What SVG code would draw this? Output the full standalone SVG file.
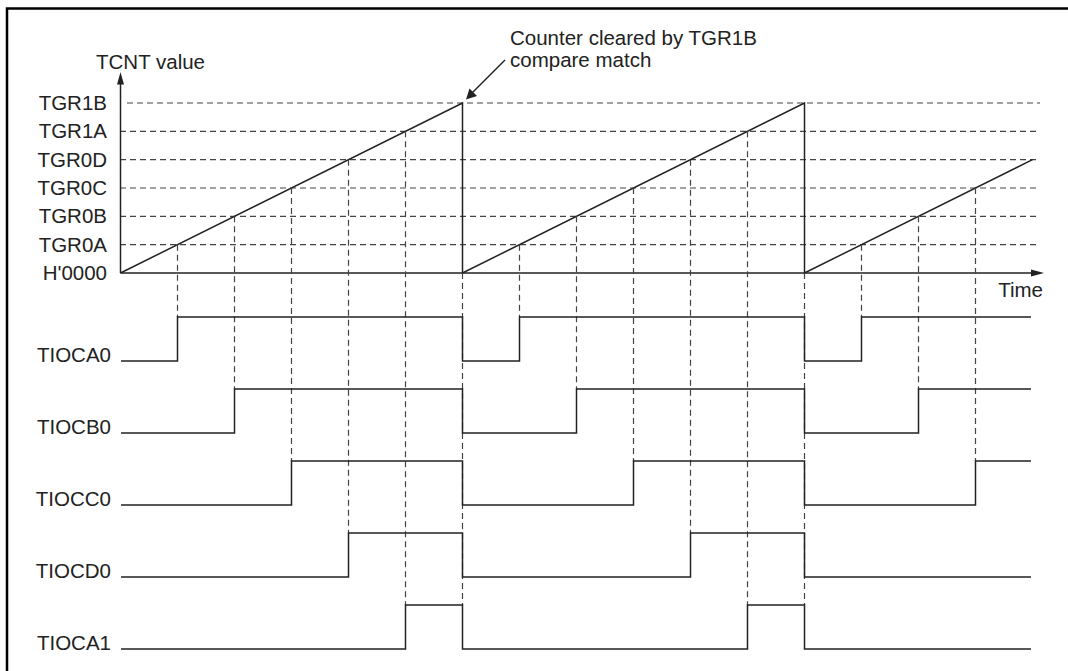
<svg xmlns="http://www.w3.org/2000/svg" width="1068" height="671" viewBox="0 0 1068 671">
<style>
text{font-family:"Liberation Sans",Arial,sans-serif;font-size:20.5px;fill:#222}
.r{text-anchor:end}
.solid{stroke:#222;stroke-width:1.5;fill:none}
.dash{stroke:#444;stroke-width:1.2;stroke-dasharray:6 4;fill:none}
.head{fill:#222;stroke:none}
</style>
<rect width="1068" height="671" fill="#fff"/>
<path d="M7,671 V8.5 H1068" stroke="#000" stroke-width="2.5" fill="none"/>
<g id="levels">
<path class="dash" d="M127,103 H1040 M120,131.3 H1040 M120,159.7 H1040 M120,188 H1040 M120,216.3 H1040 M120,244.7 H1040"/>
<text class="r" x="107" y="110">TGR1B</text>
<text class="r" x="107" y="138.3">TGR1A</text>
<text class="r" x="107" y="166.7">TGR0D</text>
<text class="r" x="107" y="195">TGR0C</text>
<text class="r" x="107" y="223.3">TGR0B</text>
<text class="r" x="107" y="251.7">TGR0A</text>
<text class="r" x="107" y="280">H'0000</text>
</g>
<g id="axes">
<path class="solid" d="M120.5,273 V83 M120.5,273 H1032"/>
<polygon class="head" points="120.5,72 117,84.5 124,84.5"/>
<polygon class="head" points="1044,273 1031,269.5 1031,276.5"/>
<text x="96" y="69">TCNT value</text>
<text class="r" x="1043" y="297">Time</text>
</g>
<g id="counter">
<path class="solid" d="M120.5,273 L462.5,103 V273 L804.5,103 V273 L1032.5,159.7"/>
</g>
<g id="annotation">
<text x="510" y="45">Counter cleared by TGR1B</text>
<text x="510" y="67">compare match</text>
<line class="solid" x1="505" y1="60" x2="472" y2="93" stroke-width="1"/>
<polygon class="head" points="466,99.5 469.5,88.5 477,96"/>
</g>
<g id="connectors">
<path class="dash" d="M177.5,244.7 V317 M234.5,216.3 V389 M291.5,188 V461 M348.5,159.7 V533 M405.5,131.3 V605 M462.5,273 V605
M519.5,244.7 V317 M576.5,216.3 V389 M633.5,188 V461 M690.5,159.7 V533 M747.5,131.3 V605 M804.5,273 V605
M861.5,244.7 V317 M918.5,216.3 V389 M975.5,188 V461"/>
</g>
<g id="TIOCA0">
<text class="r" x="111" y="362">TIOCA0</text>
<path class="solid" d="M121,361 H177.5 V317 H462.5 V361 H519.5 V317 H804.5 V361 H861.5 V317 H1031"/>
</g>
<g id="TIOCB0">
<text class="r" x="111" y="434">TIOCB0</text>
<path class="solid" d="M121,433 H234.5 V389 H462.5 V433 H576.5 V389 H804.5 V433 H918.5 V389 H1031"/>
</g>
<g id="TIOCC0">
<text class="r" x="111" y="506">TIOCC0</text>
<path class="solid" d="M121,505 H291.5 V461 H462.5 V505 H633.5 V461 H804.5 V505 H975.5 V461 H1031"/>
</g>
<g id="TIOCD0">
<text class="r" x="111" y="578">TIOCD0</text>
<path class="solid" d="M121,577 H348.5 V533 H462.5 V577 H690.5 V533 H804.5 V577 H1031"/>
</g>
<g id="TIOCA1">
<text class="r" x="111" y="650">TIOCA1</text>
<path class="solid" d="M121,649 H405.5 V605 H462.5 V649 H747.5 V605 H804.5 V649 H1031"/>
</g>
</svg>
